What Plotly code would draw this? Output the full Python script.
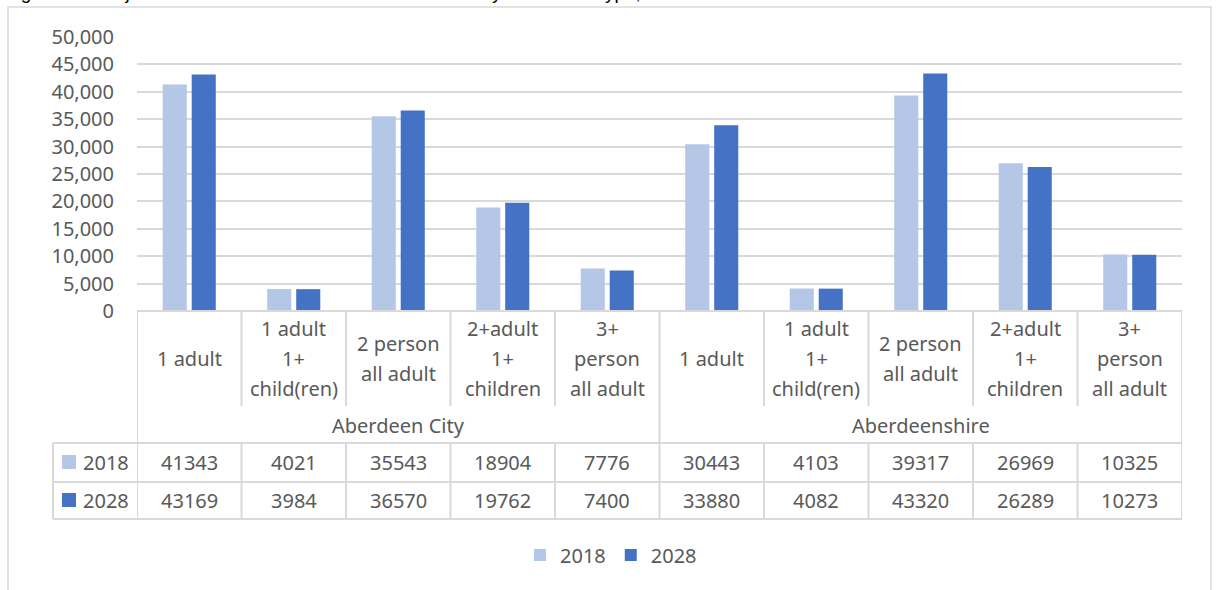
import plotly.graph_objects as go

# ---------------- data ----------------
regions = ["Aberdeen City", "Aberdeenshire"]
household_types = ["1 adult", "1 adult<br>1+<br>child(ren)", "2 person<br>all adult",
                   "2+adult<br>1+<br>children", "3+<br>person<br>all adult"]
years = ["2018", "2028"]
values_2018 = [41343, 4021, 35543, 18904, 7776, 30443, 4103, 39317, 26969, 10325]
values_2028 = [43169, 3984, 36570, 19762, 7400, 33880, 4082, 43320, 26289, 10273]
y_ticks = [0, 5000, 10000, 15000, 20000, 25000, 30000, 35000, 40000, 45000, 50000]
title_text = "Figure 13: Projected number of households in Aberdeen by household type, 2018-2028"

# ---------------- styling ----------------
FONT = "Noto Sans"
TXT = "#595959"
GRID = "#D9D9D9"
C2018 = "#B4C7E7"
C2028 = "#4472C4"
FS = 20

W, H = 1216, 590
L, R, T, B = 137, 1182, 37, 311          # plot area in pixels
PW, PH = R - L, B - T


def px(p):
    return (p - L) / PW


def py(p):
    return (B - p) / PH


n_types = len(household_types)
keys = [f"{r}|{t}" for r in regions for t in household_types]
series = [values_2018, values_2028]
colors = [C2018, C2028]

fig = go.Figure()
for yr, vals, col in zip(years, series, colors):
    fig.add_trace(go.Bar(x=keys, y=vals, name=yr, marker=dict(color=col, line=dict(width=0))))

shapes = []
annotations = []

# chart border
shapes.append(dict(type="rect", xref="paper", yref="paper", x0=px(8), x1=px(1211), y0=py(7), y1=py(620),
                   line=dict(color=GRID, width=1.5), fillcolor="rgba(0,0,0,0)", layer="below"))

line_style = dict(color=GRID, width=2)
n = len(keys)
# top of table
shapes.append(dict(type="line", xref="x", yref="paper", x0=-0.5, x1=n - 0.5, y0=py(311), y1=py(311), line=line_style))
# vertical lines
for i in range(n + 1):
    xb = i - 0.5
    if i % n_types == 0:
        shapes.append(dict(type="line", xref="x", yref="paper", x0=xb, x1=xb, y0=py(311), y1=py(519), line=line_style))
    else:
        shapes.append(dict(type="line", xref="x", yref="paper", x0=xb, x1=xb, y0=py(311), y1=py(406), line=line_style))
        shapes.append(dict(type="line", xref="x", yref="paper", x0=xb, x1=xb, y0=py(443), y1=py(519), line=line_style))
# row-header column left border
shapes.append(dict(type="line", xref="paper", yref="paper", x0=px(53), x1=px(53), y0=py(443), y1=py(519), line=line_style))
# horizontal data row lines
for yy in (443, 482, 519):
    shapes.append(dict(type="line", xref="paper", yref="paper", x0=px(53), x1=1, y0=py(yy), y1=py(yy), line=line_style))

# category labels (multi-line, 30 px line spacing, centred at y=358)
for k, key in zip(range(n), keys):
    lines = household_types[k % n_types].split("<br>")
    m = len(lines)
    for j, ln in enumerate(lines):
        yc = 358 + (j - (m - 1) / 2) * 30
        annotations.append(dict(x=key, xref="x", y=py(yc), yref="paper", text=ln, showarrow=False,
                                xanchor="center", yanchor="middle", font=dict(family=FONT, size=FS, color=TXT)))

# region labels
for g, reg in enumerate(regions):
    annotations.append(dict(x=g * n_types + (n_types - 1) / 2, xref="x", y=py(425), yref="paper", text=reg,
                            showarrow=False, xanchor="center", yanchor="middle",
                            font=dict(family=FONT, size=FS, color=TXT)))

# data rows
row_y = [462, 500]
for yr, vals, col, yy in zip(years, series, colors, row_y):
    for key, v in zip(keys, vals):
        annotations.append(dict(x=key, xref="x", y=py(yy), yref="paper", text=str(v), showarrow=False,
                                xanchor="center", yanchor="middle", font=dict(family=FONT, size=FS, color=TXT)))
    shapes.append(dict(type="rect", xref="paper", yref="paper", x0=px(62), x1=px(76), y0=py(yy - 7), y1=py(yy + 7),
                       line=dict(width=0), fillcolor=col))
    annotations.append(dict(x=px(81), xref="paper", y=py(yy), yref="paper", text=yr, showarrow=False,
                            xanchor="left", yanchor="middle", font=dict(family=FONT, size=FS, color=TXT)))

# title (mostly cut off at the top of the image, as in the source)
annotations.append(dict(x=px(3), xref="paper", y=py(-8), yref="paper", text=title_text, showarrow=False,
                        xanchor="left", yanchor="middle", font=dict(family="Liberation Sans", size=19, color="#000000")))

fig.update_layout(
    width=W, height=H,
    margin=dict(l=L, r=W - R, t=T, b=H - B, pad=0),
    paper_bgcolor="white", plot_bgcolor="white",
    barmode="group", bargap=0.445, bargroupgap=0.17,
    font=dict(family=FONT, size=FS, color=TXT),
    xaxis=dict(showticklabels=False, showgrid=False, zeroline=False, showline=False, ticks="",
               range=[-0.5, n - 0.5]),
    yaxis=dict(range=[0, 50000], tickvals=y_ticks, tickformat=",", showgrid=True, gridcolor=GRID, gridwidth=1.5,
               zeroline=False, showline=False, ticks="", ticklabelstandoff=22,
               tickfont=dict(family=FONT, size=FS, color=TXT)),
    showlegend=True,
    legend=dict(orientation="h", x=px(611), xanchor="center", y=py(555), yanchor="middle",
                font=dict(family=FONT, size=FS, color=TXT), bgcolor="rgba(0,0,0,0)", itemclick=False),
    shapes=shapes,
    annotations=annotations,
)

fig.write_html("out.html")
